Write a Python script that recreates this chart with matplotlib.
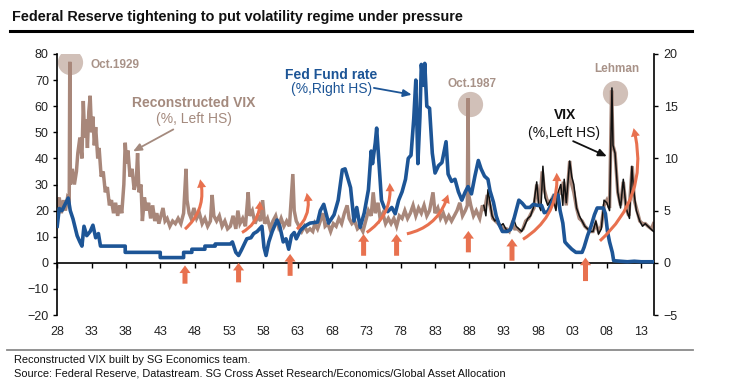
import matplotlib
matplotlib.use('Agg')
import matplotlib.pyplot as plt
import numpy as np

plt.rcParams['font.family'] = ['Liberation Sans', 'DejaVu Sans']

# reconstructed VIX (% , left axis)
rvix_year = [1928.0, 1928.3, 1928.6, 1928.9, 1929.2, 1929.5, 1929.75, 1929.83, 1929.92, 1930.2,
             1930.5, 1930.8, 1931.0, 1931.3, 1931.6, 1931.8, 1932.0, 1932.2, 1932.4, 1932.6,
             1932.8, 1933.0, 1933.2, 1933.4, 1933.6, 1933.9, 1934.1, 1934.4, 1934.7, 1935.0,
             1935.3, 1935.6, 1935.9, 1936.2, 1936.5, 1936.8, 1937.1, 1937.4, 1937.7, 1937.9,
             1938.1, 1938.3, 1938.6, 1938.9, 1939.2, 1939.5, 1939.7, 1939.9, 1940.2, 1940.4,
             1940.7, 1941.0, 1941.3, 1941.6, 1941.9, 1942.2, 1942.5, 1942.8, 1943.1, 1943.4,
             1943.7, 1944.0, 1944.4, 1944.8, 1945.2, 1945.6, 1946.0, 1946.4, 1946.75, 1946.9,
             1947.2, 1947.5, 1947.9, 1948.3, 1948.7, 1949.1, 1949.5, 1949.9, 1950.3, 1950.55,
             1950.8, 1951.2, 1951.6, 1952.0, 1952.4, 1952.8, 1953.2, 1953.6, 1954.0, 1954.3,
             1954.6, 1955.0, 1955.4, 1955.8, 1956.0, 1956.4, 1956.8, 1957.2, 1957.6, 1957.9,
             1958.2, 1958.6, 1959.0, 1959.4, 1959.8, 1960.2, 1960.6, 1961.0, 1961.4, 1961.8,
             1962.3, 1962.5, 1962.8, 1963.2, 1963.6, 1964.0, 1964.4, 1964.8, 1965.2, 1965.5,
             1965.9, 1966.3, 1966.7, 1967.0, 1967.4, 1967.8, 1968.2, 1968.6, 1969.0, 1969.4,
             1969.8, 1970.2, 1970.5, 1970.9, 1971.3, 1971.7, 1972.1, 1972.5, 1972.9, 1973.3,
             1973.7, 1974.0, 1974.3, 1974.7, 1975.0, 1975.4, 1975.8, 1976.2, 1976.6, 1977.0,
             1977.4, 1977.8, 1978.2, 1978.6, 1979.0, 1979.4, 1979.8, 1980.2, 1980.6, 1981.0,
             1981.4, 1981.8, 1982.2, 1982.7, 1983.0, 1983.4, 1983.8, 1984.2, 1984.6, 1985.0,
             1985.4, 1985.8, 1986.2, 1986.6, 1987.0, 1987.4, 1987.7, 1987.8, 1987.9, 1988.2,
             1988.6, 1989.0, 1989.5, 1989.9, 1990.2, 1990.6, 1991.0, 1991.4, 1991.8, 1992.2,
             1992.6, 1993.0, 1993.4, 1993.8, 1994.2, 1994.6, 1995.0, 1995.4, 1995.8, 1996.2,
             1996.6, 1997.0, 1997.4, 1997.8, 1998.2, 1998.6, 1998.9, 1999.3, 1999.7, 2000.1,
             2000.5, 2000.9, 2001.3, 2001.7, 2002.1, 2002.6, 2002.9, 2003.2, 2003.6, 2004.0,
             2004.4, 2004.8, 2005.2, 2005.6, 2006.0, 2006.4, 2006.8, 2007.2, 2007.6, 2008.0,
             2008.4, 2008.7, 2008.9, 2009.2, 2009.6, 2010.0, 2010.4, 2010.8, 2011.2, 2011.7,
             2012.0, 2012.4, 2012.8, 2013.2, 2013.6, 2014.0, 2014.5, 2014.8]
rvix = [22, 25, 19, 24, 20, 25, 24, 77, 30, 36,
        30, 35, 42, 48, 40, 62, 48, 55, 44, 58,
        64, 50, 56, 45, 52, 40, 44, 33, 35, 27,
        29, 22, 24, 19, 23, 18, 22, 19, 30, 46,
        38, 43, 33, 36, 28, 31, 42, 27, 30, 16,
        25, 20, 23, 17, 22, 16, 19, 15, 18, 21,
        16, 17, 14, 16, 15, 17, 15, 19, 36, 24,
        19, 17, 21, 17, 19, 15, 17, 14, 16, 26,
        18, 16, 18, 14, 16, 13, 14, 18, 13, 20,
        15, 17, 14, 27, 18, 20, 15, 18, 16, 24,
        15, 17, 13, 16, 18, 14, 17, 14, 16, 14,
        34, 20, 16, 14, 12, 14, 12, 13, 12, 15,
        13, 16, 19, 14, 15, 12, 15, 14, 17, 15,
        19, 22, 17, 15, 16, 13, 14, 12, 16, 20,
        18, 27, 19, 23, 17, 19, 15, 17, 15, 17,
        14, 18, 17, 20, 17, 19, 22, 18, 21, 19,
        22, 18, 20, 27, 19, 21, 17, 19, 16, 18,
        16, 18, 20, 23, 18, 20, 22, 63, 26, 22,
        18, 20, 17, 22, 20, 26, 22, 17, 16, 15,
        14, 13, 13, 12, 15, 13, 13, 12, 13, 16,
        17, 19, 21, 30, 22, 35, 28, 24, 23, 25,
        22, 26, 27, 31, 22, 39, 30, 27, 21, 17,
        16, 14, 13, 12, 12, 15, 12, 14, 22, 24,
        21, 66, 45, 42, 27, 22, 31, 21, 18, 37,
        24, 20, 16, 15, 15, 14, 13, 15]

# VIX (%, left axis)
vix_year = [1990.1, 1990.4, 1990.7, 1991.0, 1991.3, 1991.7, 1992.1, 1992.5, 1992.9, 1993.3,
            1993.7, 1994.1, 1994.4, 1994.8, 1995.2, 1995.6, 1996.0, 1996.5, 1996.9, 1997.3,
            1997.8, 1998.1, 1998.4, 1998.7, 1999.0, 1999.4, 1999.8, 2000.2, 2000.6, 2000.9,
            2001.3, 2001.6, 2001.8, 2002.1, 2002.6, 2002.9, 2003.2, 2003.6, 2004.0, 2004.4,
            2004.8, 2005.2, 2005.6, 2006.0, 2006.4, 2006.8, 2007.2, 2007.6, 2008.0, 2008.4,
            2008.75, 2008.9, 2009.2, 2009.6, 2010.0, 2010.4, 2010.8, 2011.3, 2011.65, 2011.9,
            2012.3, 2012.8, 2013.2, 2013.6, 2014.0, 2014.4, 2014.8]
vix = [22, 18, 28, 23, 18, 16, 17, 14, 15, 13,
       12, 14, 17, 14, 13, 12, 14, 17, 18, 21,
       31, 22, 20, 37, 25, 22, 24, 25, 20, 27,
       30, 22, 32, 23, 39, 33, 30, 21, 18, 16,
       14, 13, 12, 12, 16, 11, 13, 24, 23, 20,
       67, 45, 42, 27, 21, 32, 21, 17, 37, 28,
       20, 16, 14, 15, 14, 13, 12]

# Fed funds rate (%, right axis)
ff_year = [1928.0, 1928.3, 1928.7, 1929.3, 1929.6, 1929.9, 1930.3, 1930.9, 1931.3, 1931.6,
           1931.9, 1932.3, 1932.8, 1933.2, 1933.6, 1934.0, 1934.3, 1937.9, 1937.9, 1943.0,
           1943.0, 1946.4, 1946.4, 1947.6, 1947.6, 1949.5, 1949.5, 1951.0, 1951.0, 1953.2,
           1953.5, 1954.0, 1954.4, 1954.8, 1955.6, 1956.2, 1956.6, 1957.1, 1957.8, 1958.1,
           1958.4, 1958.8, 1959.3, 1960.0, 1960.4, 1960.9, 1961.3, 1961.7, 1962.1, 1962.5,
           1962.8, 1963.4, 1964.0, 1964.8, 1965.9, 1966.3, 1966.8, 1967.5, 1968.3, 1968.9,
           1969.5, 1969.9, 1970.7, 1971.2, 1971.6, 1972.1, 1972.7, 1973.3, 1973.7, 1973.9,
           1974.3, 1974.5, 1974.8, 1975.2, 1975.6, 1976.1, 1976.7, 1977.2, 1977.7, 1978.2,
           1978.7, 1979.1, 1979.5, 1979.9, 1980.2, 1980.5, 1980.8, 1981.0, 1981.3, 1981.5,
           1981.8, 1982.2, 1982.6, 1983.0, 1983.5, 1984.0, 1984.6, 1984.9, 1985.4, 1985.9,
           1986.4, 1986.9, 1987.4, 1987.8, 1988.3, 1988.8, 1989.3, 1989.7, 1990.2, 1990.7,
           1991.0, 1991.5, 1991.9, 1992.3, 1992.8, 1993.5, 1994.0, 1994.4, 1994.8, 1995.2,
           1995.7, 1996.2, 1996.8, 1997.3, 1997.9, 1998.5, 1998.9, 1999.4, 1999.9, 2000.4,
           2000.9, 2001.2, 2001.6, 2001.9, 2002.3, 2002.9, 2003.5, 2004.4, 2004.7, 2005.2,
           2005.7, 2006.2, 2006.6, 2007.5, 2007.8, 2008.1, 2008.4, 2008.8, 2009.0, 2010.0,
           2011.0, 2012.0, 2013.0, 2014.8]
ff = [3.5, 5.2, 5.0, 5.8, 6.2, 5.0, 4.2, 2.6, 2.0, 1.6,
      3.5, 2.6, 3.0, 3.6, 2.4, 2.8, 1.6, 1.6, 1.0, 1.0,
      0.5, 0.5, 1.0, 1.0, 1.3, 1.3, 1.6, 1.6, 1.8, 1.8,
      2.0, 1.0, 0.7, 1.2, 2.3, 2.4, 2.8, 3.0, 3.5, 1.5,
      0.7, 2.0, 3.0, 4.1, 3.5, 2.0, 2.3, 1.3, 2.6, 2.9,
      2.3, 3.1, 3.5, 3.8, 3.9, 5.0, 5.6, 3.8, 4.6, 6.0,
      8.9, 9.0, 7.2, 4.0, 5.3, 3.4, 4.8, 7.0, 10.7, 9.5,
      11.5, 12.9, 10.0, 6.0, 5.3, 4.9, 5.3, 4.7, 6.0, 6.8,
      8.0, 10.0, 10.3, 13.8, 17.5, 9.5, 14.0, 19.0, 17.0, 19.1,
      15.0, 14.8, 10.5, 8.6, 9.3, 9.6, 11.6, 8.5, 7.8, 8.0,
      6.8, 6.0, 6.8, 7.3, 6.6, 8.3, 9.8, 9.0, 8.3, 8.0,
      6.9, 5.8, 4.5, 3.7, 3.0, 3.0, 3.2, 4.0, 5.0, 6.0,
      5.7, 5.3, 5.3, 5.6, 5.5, 5.5, 4.8, 4.9, 5.6, 6.5,
      6.5, 5.0, 3.8, 2.0, 1.7, 1.3, 1.0, 1.0, 1.5, 2.6,
      3.5, 4.6, 5.25, 5.25, 4.7, 3.0, 2.0, 1.0, 0.2, 0.15,
      0.1, 0.15, 0.1, 0.1]

tick_years = list(range(1928, 2014, 5))
tick_labels = ['28', '33', '38', '43', '48', '53', '58', '63', '68', '73',
               '78', '83', '88', '93', '98', '03', '08', '13']

# annotation spots (year, left-axis value)
events = [('Oct.1929', 1929.8, 76.8), ('Oct.1987', 1988.1, 60.7), ('Lehman', 2009.2, 65.0)]
up_arrows = [(1946.6, -8, -1), (1954.4, -7.5, 0), (1961.9, -5, 3.4), (1972.6, 2.7, 11),
             (1977.4, 2.7, 11), (1987.85, 4, 12.2), (1994.2, 0.8, 9.2), (2004.9, -7, 2)]
curved_arrows = [((1946.6, 12.9), (1948.8, 32)), ((1954.9, 11.6), (1957.5, 23.7)),
                 ((1962.9, 12.9), (1964.3, 26.8)), ((1973.05, 11.6), (1976.4, 30.6)),
                 ((1978.9, 11.1), (1984.9, 26.2)), ((1995.8, 9.0), (2000.7, 34.5)),
                 ((2007.0, 8.4), (2011.9, 51.6))]

brown = '#a8877a'
blue = '#1d5596'
orange = '#e8714f'
label_brown = '#a48a7e'

fig = plt.figure(figsize=(7.55, 3.9), dpi=100)
ax = fig.add_axes([57.2 / 755, 1 - 315 / 390, (654 - 57.2) / 755, 261 / 390])
ax2 = ax.twinx()

# circles behind the spikes
for name, yr, val in events:
    ax.scatter([yr], [val], s=330, color='#c9b5ac', alpha=0.85, zorder=0.5, lw=0)

ax.plot(rvix_year, rvix, color=brown, lw=2.5, solid_joinstyle='miter', zorder=1)
ax.plot(vix_year, vix, color='#111111', lw=1.1, zorder=2)
ax2.plot(ff_year, ff, color=blue, lw=2.6, zorder=3)

ax.set_xlim(1928, 2014.87)
ax.set_ylim(-20, 80)
ax2.set_ylim(-5, 20)
ax.set_yticks(range(-20, 81, 10))
ax2.set_yticks(range(-5, 21, 5))

ax.set_xticks(tick_years)
ax.set_xticklabels(tick_labels)
ax.tick_params(axis='x', length=0, pad=8, labelsize=9, labelcolor='#222222')
ax.tick_params(axis='y', length=3, width=1, pad=3, labelsize=9, labelcolor='#222222')
ax2.tick_params(axis='y', length=3, width=1, pad=4, labelsize=9, labelcolor='#222222')
for a in (ax, ax2):
    a.spines['top'].set_visible(False)
    a.spines['bottom'].set_visible(False)
    a.spines['left'].set_linewidth(1.2)
    a.spines['right'].set_linewidth(1.2)
ax.spines['right'].set_visible(False)
ax2.spines['left'].set_visible(False)

# zero line with the year ticks
zero_axis = ax.secondary_xaxis(0.2)
zero_axis.set_xticks(tick_years)
zero_axis.set_xticklabels([])
zero_axis.tick_params(direction='out', length=3.5, width=1)
zero_axis.spines['bottom'].set_linewidth(1.2)

# orange arrows
for yr, v0, v1 in up_arrows:
    ax2.annotate('', xy=(yr, v1), xycoords=ax.transData, xytext=(yr, v0), textcoords=ax.transData,
                 arrowprops=dict(arrowstyle='simple,head_width=0.8,head_length=0.55,tail_width=0.36',
                                 mutation_scale=10, color=orange, lw=0, shrinkA=0, shrinkB=0),
                 zorder=5)
for tail, head in curved_arrows:
    ax2.annotate('', xy=head, xycoords=ax.transData, xytext=tail, textcoords=ax.transData,
                 arrowprops=dict(arrowstyle='simple,head_width=0.65,head_length=0.6,tail_width=0.22',
                                 mutation_scale=10, color=orange, lw=0, shrinkA=0, shrinkB=0,
                                 connectionstyle='arc3,rad=0.3'),
                 zorder=5)

# labels
ax2.text(1932.9, 75.6, 'Oct.1929', transform=ax.transData, color='#a89288', fontsize=8.5,
         fontweight='bold', ha='left', va='center')
ax2.text(1988.4, 68.4, 'Oct.1987', transform=ax.transData, color='#a89288', fontsize=8.5,
         fontweight='bold', ha='center', va='center')
ax2.text(2009.4, 74.3, 'Lehman', transform=ax.transData, color='#a89288', fontsize=8.5,
         fontweight='bold', ha='center', va='center')
ax2.text(1947.9, 61.2, 'Reconstructed VIX', transform=ax.transData, color=label_brown,
         fontsize=10, fontweight='bold', ha='center', va='center')
ax2.text(1947.9, 55.0, '(%, Left HS)', transform=ax.transData, color=label_brown,
         fontsize=10, ha='center', va='center')
ax2.text(1967.8, 72.1, 'Fed Fund rate', transform=ax.transData, color=blue,
         fontsize=10, fontweight='bold', ha='center', va='center')
ax2.text(1968.0, 66.4, '(%,Right HS)', transform=ax.transData, color=blue,
         fontsize=10, ha='center', va='center')
ax2.text(2001.9, 56.5, 'VIX', transform=ax.transData, color='#111111',
         fontsize=10, fontweight='bold', ha='center', va='center')
ax2.text(2001.7, 49.7, '(%,Left HS)', transform=ax.transData, color='#111111',
         fontsize=10, ha='center', va='center')

pointer = dict(arrowstyle='-|>,head_length=0.5,head_width=0.22', lw=1.3, shrinkA=0, shrinkB=0)
ax2.annotate('', xy=(1939.05, 42.7), xycoords=ax.transData, xytext=(1944.9, 51.1),
             textcoords=ax.transData, arrowprops=dict(pointer, color=label_brown))
ax2.annotate('', xy=(1979.6, 64.4), xycoords=ax.transData, xytext=(1974.1, 67.0),
             textcoords=ax.transData, arrowprops=dict(pointer, color=blue))
ax2.annotate('', xy=(2008.0, 40.8), xycoords=ax.transData, xytext=(2003.1, 46.6),
             textcoords=ax.transData, arrowprops=dict(pointer, color='#111111'))

# title, rules and footnotes
fig.text(12 / 755, 1 - 17 / 390, 'Federal Reserve tightening to put volatility regime under pressure',
         fontsize=10.4, fontweight='bold', color='#111111', ha='left', va='center')
fig.add_artist(plt.Line2D([10 / 755, 692 / 755], [1 - 30.5 / 390] * 2, color='black', lw=2.2))
fig.add_artist(plt.Line2D([7 / 755, 693 / 755], [1 - 350 / 390] * 2, color='#8a8a8a', lw=1.3))
fig.text(14 / 755, 1 - 360 / 390, 'Reconstructed VIX built by SG Economics team.',
         fontsize=7.9, color='#111111', ha='left', va='center')
fig.text(14 / 755, 1 - 374 / 390,
         'Source: Federal Reserve, Datastream. SG Cross Asset Research/Economics/Global Asset Allocation',
         fontsize=7.9, color='#111111', ha='left', va='center')

fig.savefig('out.png', dpi=100)
